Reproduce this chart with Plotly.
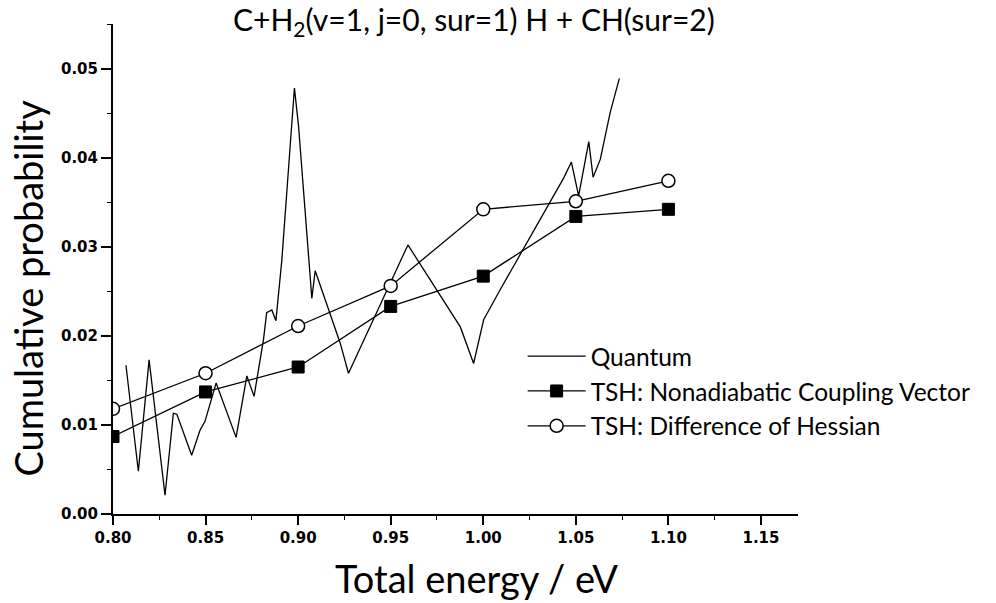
import plotly.graph_objects as go

# Quantum cumulative probability vs total energy
quantum_energy = [0.807, 0.8137, 0.8195, 0.8281, 0.8326, 0.8345, 0.8425, 0.847, 0.8497,
                  0.8557, 0.8665, 0.8723, 0.8762, 0.8813, 0.883, 0.8858, 0.888, 0.8912,
                  0.8957, 0.898, 0.9002, 0.9038, 0.9074, 0.9092, 0.9227, 0.9272, 0.9593,
                  0.9876, 0.9948, 1.0002, 1.0092, 1.0434, 1.0476, 1.0515, 1.057, 1.0593,
                  1.0632, 1.0686, 1.0735]
quantum_prob = [0.0167, 0.0048, 0.0173, 0.0021, 0.0113, 0.0112, 0.0066, 0.0094, 0.0104,
                0.0147, 0.0086, 0.0155, 0.0132, 0.0196, 0.0226, 0.0229, 0.0217, 0.0285,
                0.0413, 0.0478, 0.0436, 0.0342, 0.0242, 0.0273, 0.0192, 0.0158, 0.0302,
                0.0210, 0.0169, 0.0218, 0.0252, 0.0377, 0.0395, 0.0357, 0.0418, 0.0378,
                0.0398, 0.0451, 0.0489]

# Trajectory surface hopping results
tsh_energy = [0.80, 0.85, 0.90, 0.95, 1.00, 1.05, 1.10]
tsh_nacv = [0.0087, 0.0137, 0.0165, 0.0233, 0.0267, 0.0334, 0.0342]
tsh_hessian = [0.0118, 0.0158, 0.0211, 0.0256, 0.0342, 0.0351, 0.0374]

title_text = "C+H<sub>2</sub>(v=1, j=0, sur=1) H + CH(sur=2)"
x_title = "Total energy / eV"
y_title = "Cumulative probability"
label_font = "Lato"

fig = go.Figure()
fig.add_trace(go.Scatter(
    x=quantum_energy, y=quantum_prob, mode="lines", name="Quantum",
    line=dict(color="black", width=1.3),
))
fig.add_trace(go.Scatter(
    x=tsh_energy, y=tsh_nacv, mode="lines+markers",
    name="TSH: Nonadiabatic Coupling Vector",
    line=dict(color="black", width=1.3),
    marker=dict(symbol="square", size=12, color="black", line=dict(color="black", width=1)),
))
fig.add_trace(go.Scatter(
    x=tsh_energy, y=tsh_hessian, mode="lines+markers",
    name="TSH: Difference of Hessian",
    line=dict(color="black", width=1.3),
    marker=dict(symbol="circle", size=13, color="white", line=dict(color="black", width=1.5)),
))

tick_font = dict(family="DejaVu Sans", size=15, color="black", weight="bold")

fig.update_xaxes(
    range=[0.80, 1.17], dtick=0.05, tick0=0.80, tickformat=".2f",
    showline=True, linecolor="black", linewidth=2, showgrid=False, zeroline=False,
    ticks="outside", ticklen=9, tickwidth=1.5, tickcolor="black", tickfont=tick_font,
    minor=dict(dtick=0.025, ticks="outside", ticklen=4, tickwidth=1.2, tickcolor="black"),
)
fig.update_yaxes(
    range=[0, 0.055], dtick=0.01, tickformat=".2f",
    showline=True, linecolor="black", linewidth=2, showgrid=False, zeroline=False,
    ticks="outside", ticklen=10, tickwidth=1.5, tickcolor="black", tickfont=tick_font,
    minor=dict(dtick=0.005, ticks="outside", ticklen=4, tickwidth=1.2, tickcolor="black"),
)

fig.add_annotation(text=title_text, xref="paper", yref="paper", x=0.527, y=1.0,
                   xanchor="center", yanchor="middle", yshift=3, showarrow=False,
                   font=dict(family=label_font, size=30, color="black"))
fig.add_annotation(text=y_title, xref="paper", yref="paper", x=0, y=0.46,
                   xanchor="center", yanchor="middle", xshift=-85, textangle=-90,
                   showarrow=False, font=dict(family=label_font, size=38, color="black"))
fig.add_annotation(text=x_title, xref="paper", yref="paper", x=0.53, y=0,
                   xanchor="center", yanchor="middle", yshift=-64, showarrow=False,
                   font=dict(family=label_font, size=38, color="black"))

fig.update_layout(
    width=996, height=603,
    margin=dict(l=113, r=198, t=24, b=89),
    paper_bgcolor="white", plot_bgcolor="white",
    showlegend=True,
    legend=dict(x=0.598, y=0.368, xanchor="left", yanchor="top",
                bgcolor="rgba(0,0,0,0)", itemwidth=58, tracegroupgap=0,
                borderwidth=0,
                font=dict(family=label_font, size=24.5, color="black")),
)

fig.write_html("out.html")
